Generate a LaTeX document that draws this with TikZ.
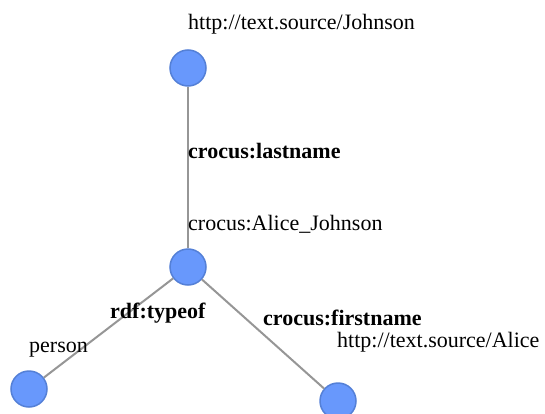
\documentclass[tikz,border=0pt]{standalone}
\usepackage{fontspec}
\setmainfont{Liberation Serif}
\definecolor{nodefill}{RGB}{104,152,252}
\definecolor{nodeborder}{RGB}{84,128,215}
\definecolor{edgegray}{RGB}{150,150,150}
\tikzset{
  resource/.style={circle, minimum size=36pt, inner sep=0pt, fill=nodefill, draw=nodeborder, line width=1.5pt},
  link/.style={draw=edgegray, line width=2pt},
  nodelabel/.style={anchor=base west, inner sep=0pt, font=\fontsize{22}{26}\selectfont},
  edgelabel/.style={anchor=base west, inner sep=0pt, font=\fontsize{22}{26}\selectfont\bfseries},
}
\begin{document}
\begin{tikzpicture}[x=1pt, y=-1pt]
\useasboundingbox (0,0) rectangle (545,414);
% resources
\node[resource] (johnson) at (188,68) {};
\node[resource] (alicej) at (188,267) {};
\node[resource] (person) at (29,389) {};
\node[resource] (alice) at (338,401) {};
% relations
\draw[link] (johnson) -- (alicej);
\draw[link] (alicej) -- (person);
\draw[link] (alicej) -- (alice);
% resource names
\node[nodelabel] (tjohnson) at (188,30) {http://text.source/Johnson};
\node[nodelabel] (talicej) at (188,230) {crocus:Alice\_Johnson};
\node[nodelabel] (tperson) at (29,352) {person};
\node[nodelabel] (talice) at (337,347) {http://text.source/Alice};
% relation names
\node[edgelabel] (tlast) at (188,158) {crocus:lastname};
\node[edgelabel] (ttype) at (110,318) {rdf:typeof};
\node[edgelabel] (tfirst) at (263,325) {crocus:firstname};
\end{tikzpicture}
\end{document}
